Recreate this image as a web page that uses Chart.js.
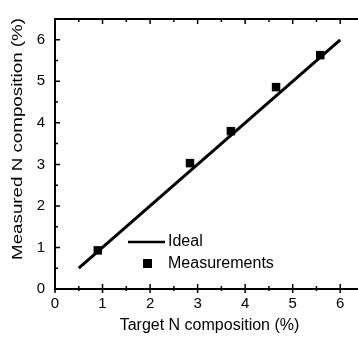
<!DOCTYPE html>
<html>
<head>
<meta charset="utf-8">
<script src="https://cdn.jsdelivr.net/npm/chart.js@4"></script>
<style>
  html, body { margin: 0; padding: 0; background: #fff; overflow: hidden; }
  #wrap { width: 370px; height: 339px; }
</style>
</head>
<body>
<div id="wrap"><canvas id="nChart" width="370" height="339"></canvas></div>
<script>
const idealX = [0.5, 6];
const idealY = [0.5, 6];
const targetN = [0.9, 2.84, 3.7, 4.65, 5.58];
const measuredN = [0.93, 3.03, 3.8, 4.86, 5.63];
const tickValues = [0, 1, 2, 3, 4, 5, 6];
const yTitle = "Measured N composition (%)";

const FONT = "'Liberation Sans', Arial, sans-serif";

// ticks pointing into the plot, frame, y title and legend
const frameTicks = {
  id: "frameTicks",
  afterDraw(chart) {
    const { ctx, chartArea: a, scales: { x, y } } = chart;
    ctx.save();
    ctx.strokeStyle = "#000";
    ctx.lineWidth = 2;
    ctx.strokeRect(a.left, a.top, a.right - a.left, a.bottom - a.top);
    ctx.lineWidth = 1.5;
    ctx.beginPath();
    for (let v = 0; v <= 6.5; v += 0.5) {
      const major = v % 1 === 0;
      const len = major ? 5 : 3;
      const px = x.getPixelForValue(v);
      ctx.moveTo(px, a.bottom + (major ? 4 : 2)); ctx.lineTo(px, a.bottom - len);
      ctx.moveTo(px, a.top); ctx.lineTo(px, a.top + len);
      const py = y.getPixelForValue(v);
      ctx.moveTo(a.left, py); ctx.lineTo(a.left + len, py);
      ctx.moveTo(a.right, py); ctx.lineTo(a.right - len, py);
    }
    ctx.stroke();

    ctx.fillStyle = "#000";

    // y title, a bit stretched along its length like the original
    ctx.save();
    ctx.font = "15px " + FONT;
    ctx.translate(18, 139);
    ctx.rotate(-Math.PI / 2);
    const w = ctx.measureText(yTitle).width;
    ctx.scale(242 / w, 1);
    ctx.textAlign = "center";
    ctx.textBaseline = "middle";
    ctx.fillText(yTitle, 0, 0);
    ctx.restore();

    // legend inside the plot
    ctx.font = "16px " + FONT;
    ctx.textBaseline = "middle";
    ctx.lineWidth = 2.5;
    ctx.beginPath();
    ctx.moveTo(128, 242); ctx.lineTo(165, 242);
    ctx.stroke();
    ctx.fillText(chart.data.datasets[0].label, 168, 242);
    ctx.fillRect(143, 259, 9, 9);
    ctx.fillText(chart.data.datasets[1].label, 168, 264);
    ctx.restore();
  }
};

new Chart(document.getElementById("nChart"), {
  type: "scatter",
  data: {
    datasets: [{
      label: "Ideal",
      type: "line",
      data: idealX.map((v, i) => ({ x: v, y: idealY[i] })),
      borderColor: "#000",
      borderWidth: 3,
      pointRadius: 0,
      fill: false
    }, {
      label: "Measurements",
      data: targetN.map((v, i) => ({ x: v, y: measuredN[i] })),
      pointStyle: "rect",
      pointRadius: 6,
      backgroundColor: "#000",
      borderColor: "#000",
      borderWidth: 0
    }]
  },
  options: {
    responsive: false,
    animation: false,
    layout: { padding: { top: 9, right: 6, left: 0, bottom: 0 } },
    plugins: { legend: { display: false }, tooltip: { enabled: false } },
    scales: {
      x: {
        type: "linear", min: 0, max: 6.5,
        afterBuildTicks: s => { s.ticks = tickValues.map(v => ({ value: v })); },
        afterFit: s => { s.height = 50; },
        grid: { display: false, drawTicks: false },
        border: { display: false },
        ticks: { color: "#000", font: { family: FONT, size: 15 }, padding: 6, maxRotation: 0 },
        title: { display: true, text: "Target N composition (%)", color: "#000",
                 font: { family: FONT, size: 16 }, padding: { top: 2 } }
      },
      y: {
        type: "linear", min: 0, max: 6.5,
        afterBuildTicks: s => { s.ticks = tickValues.map(v => ({ value: v })); },
        afterFit: s => { s.width = 55; },
        grid: { display: false, drawTicks: false },
        border: { display: false },
        ticks: { color: "#000", font: { family: FONT, size: 15 }, padding: 10 },
        title: { display: false }
      }
    }
  },
  plugins: [frameTicks]
});
</script>
</body>
</html>
